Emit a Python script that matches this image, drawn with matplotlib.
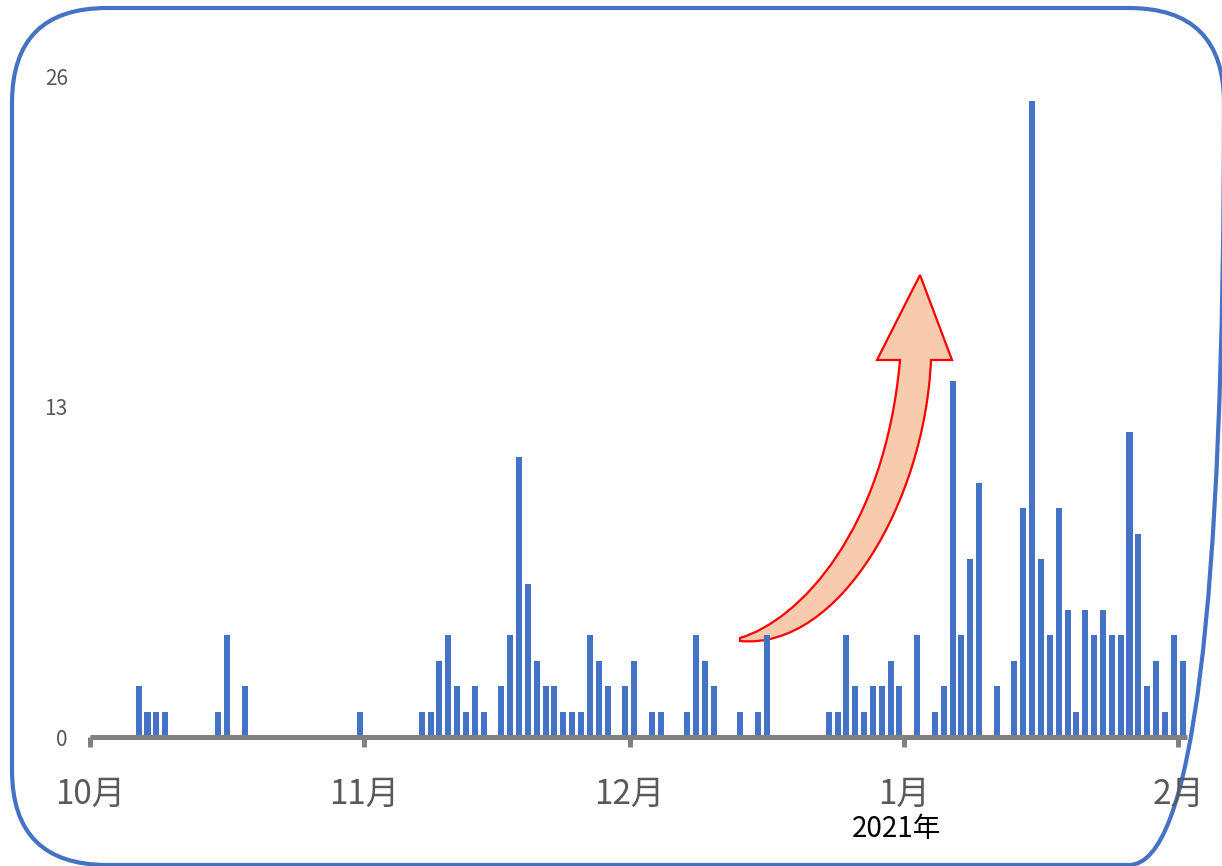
import matplotlib
matplotlib.use("Agg")
import matplotlib.pyplot as plt
from matplotlib.patches import FancyBboxPatch, PathPatch
from matplotlib.path import Path
import pandas as pd

plt.rcParams["font.family"] = ["Noto Sans CJK JP", "DejaVu Sans"]

# daily counts, 2020-10 .. 2021-02 (days without a bar are zero)
dates = [
    "2020-10-06", "2020-10-07", "2020-10-08", "2020-10-09", "2020-10-15",
    "2020-10-16", "2020-10-18", "2020-10-31",
    "2020-11-07", "2020-11-08", "2020-11-09", "2020-11-10", "2020-11-11",
    "2020-11-12", "2020-11-13", "2020-11-14", "2020-11-16", "2020-11-17",
    "2020-11-18", "2020-11-19", "2020-11-20", "2020-11-21", "2020-11-22",
    "2020-11-23", "2020-11-24", "2020-11-25", "2020-11-26", "2020-11-27",
    "2020-11-28", "2020-11-30",
    "2020-12-01", "2020-12-03", "2020-12-04", "2020-12-07", "2020-12-08",
    "2020-12-09", "2020-12-10", "2020-12-13", "2020-12-15", "2020-12-16",
    "2020-12-23", "2020-12-24", "2020-12-25", "2020-12-26", "2020-12-27",
    "2020-12-28", "2020-12-29", "2020-12-30", "2020-12-31",
    "2021-01-02", "2021-01-04", "2021-01-05", "2021-01-06", "2021-01-07",
    "2021-01-08", "2021-01-09", "2021-01-11", "2021-01-13", "2021-01-14",
    "2021-01-15", "2021-01-16", "2021-01-17", "2021-01-18", "2021-01-19",
    "2021-01-20", "2021-01-21", "2021-01-22", "2021-01-23", "2021-01-24",
    "2021-01-25", "2021-01-26", "2021-01-27", "2021-01-28", "2021-01-29",
    "2021-01-30", "2021-01-31", "2021-02-01",
]
counts = [
    2, 1, 1, 1, 1, 4, 2, 1,
    1, 1, 3, 4, 2, 1, 2, 1, 2, 4, 11, 6, 3, 2, 2, 1, 1, 1, 4, 3, 2, 2,
    3, 1, 1, 1, 4, 3, 2, 1, 1, 4, 1, 1, 4, 2, 1, 2, 2, 3, 2,
    4, 1, 2, 14, 4, 7, 10, 2, 3, 9, 25, 7, 4, 9, 5, 1, 5, 4, 5, 4, 4,
    12, 8, 2, 3, 1, 4, 3,
]
month_ticks = ["2020-10-01", "2020-11-01", "2020-12-01", "2021-01-01", "2021-02-01"]
month_labels = ["10月", "11月", "12月", "1月", "2月"]
y_ticks = [0, 13, 26]

W, H = 1222, 866
fig = plt.figure(figsize=(W / 100, H / 100), dpi=100)

# overlay in image pixel coords for the frame and the arrow
over = fig.add_axes([0, 0, 1, 1], zorder=0)
over.set_xlim(0, W)
over.set_ylim(H, 0)
over.axis("off")

frame = FancyBboxPatch((12, 8), 1212, 857,
                       boxstyle="round,pad=0,rounding_size=95",
                       fill=False, edgecolor="#4472C4", linewidth=3)
over.add_patch(frame)

verts = [
    (740, 638), (800, 620), (885, 530), (900, 360),
    (877, 360), (920, 275), (952, 360), (931, 360),
    (925, 500), (840, 650), (740, 641), (740, 638),
]
codes = [Path.MOVETO, Path.CURVE4, Path.CURVE4, Path.CURVE4,
         Path.LINETO, Path.LINETO, Path.LINETO, Path.LINETO,
         Path.CURVE4, Path.CURVE4, Path.CURVE4, Path.CLOSEPOLY]
over.add_patch(PathPatch(Path(verts, codes), facecolor="#F8CBAD",
                         edgecolor="#FF0000", linewidth=1.6))

ax = fig.add_axes([90 / W, 1 - 737 / H, 1097 / W, 661 / H], zorder=1)
ax.patch.set_alpha(0)

x = pd.to_datetime(dates) + pd.Timedelta(hours=12)
ax.bar(x, counts, width=0.68, color="#4472C4", zorder=2)

start = pd.Timestamp("2020-10-01")
ax.set_xlim(start, start + pd.Timedelta(days=124))
ax.set_ylim(0, 26)

ax.set_xticks(pd.to_datetime(month_ticks))
ax.set_xticklabels(month_labels, fontsize=24, color="#595959")
ax.tick_params(axis="x", length=7, width=3.6, color="#808080", pad=22)

ax.set_yticks(y_ticks)
ax.set_yticklabels([str(v) for v in y_ticks], fontsize=15, color="#595959")
ax.tick_params(axis="y", length=0, pad=16)

for side in ["top", "right", "left"]:
    ax.spines[side].set_visible(False)
ax.spines["bottom"].set_color("#808080")
ax.spines["bottom"].set_linewidth(3.6)
ax.spines["bottom"].set_capstyle("butt")

fig.text(897 / W, 1 - 829 / H, "2021年", fontsize=20, color="#000000",
         ha="center", va="center")

fig.savefig("out.png", dpi=100)
